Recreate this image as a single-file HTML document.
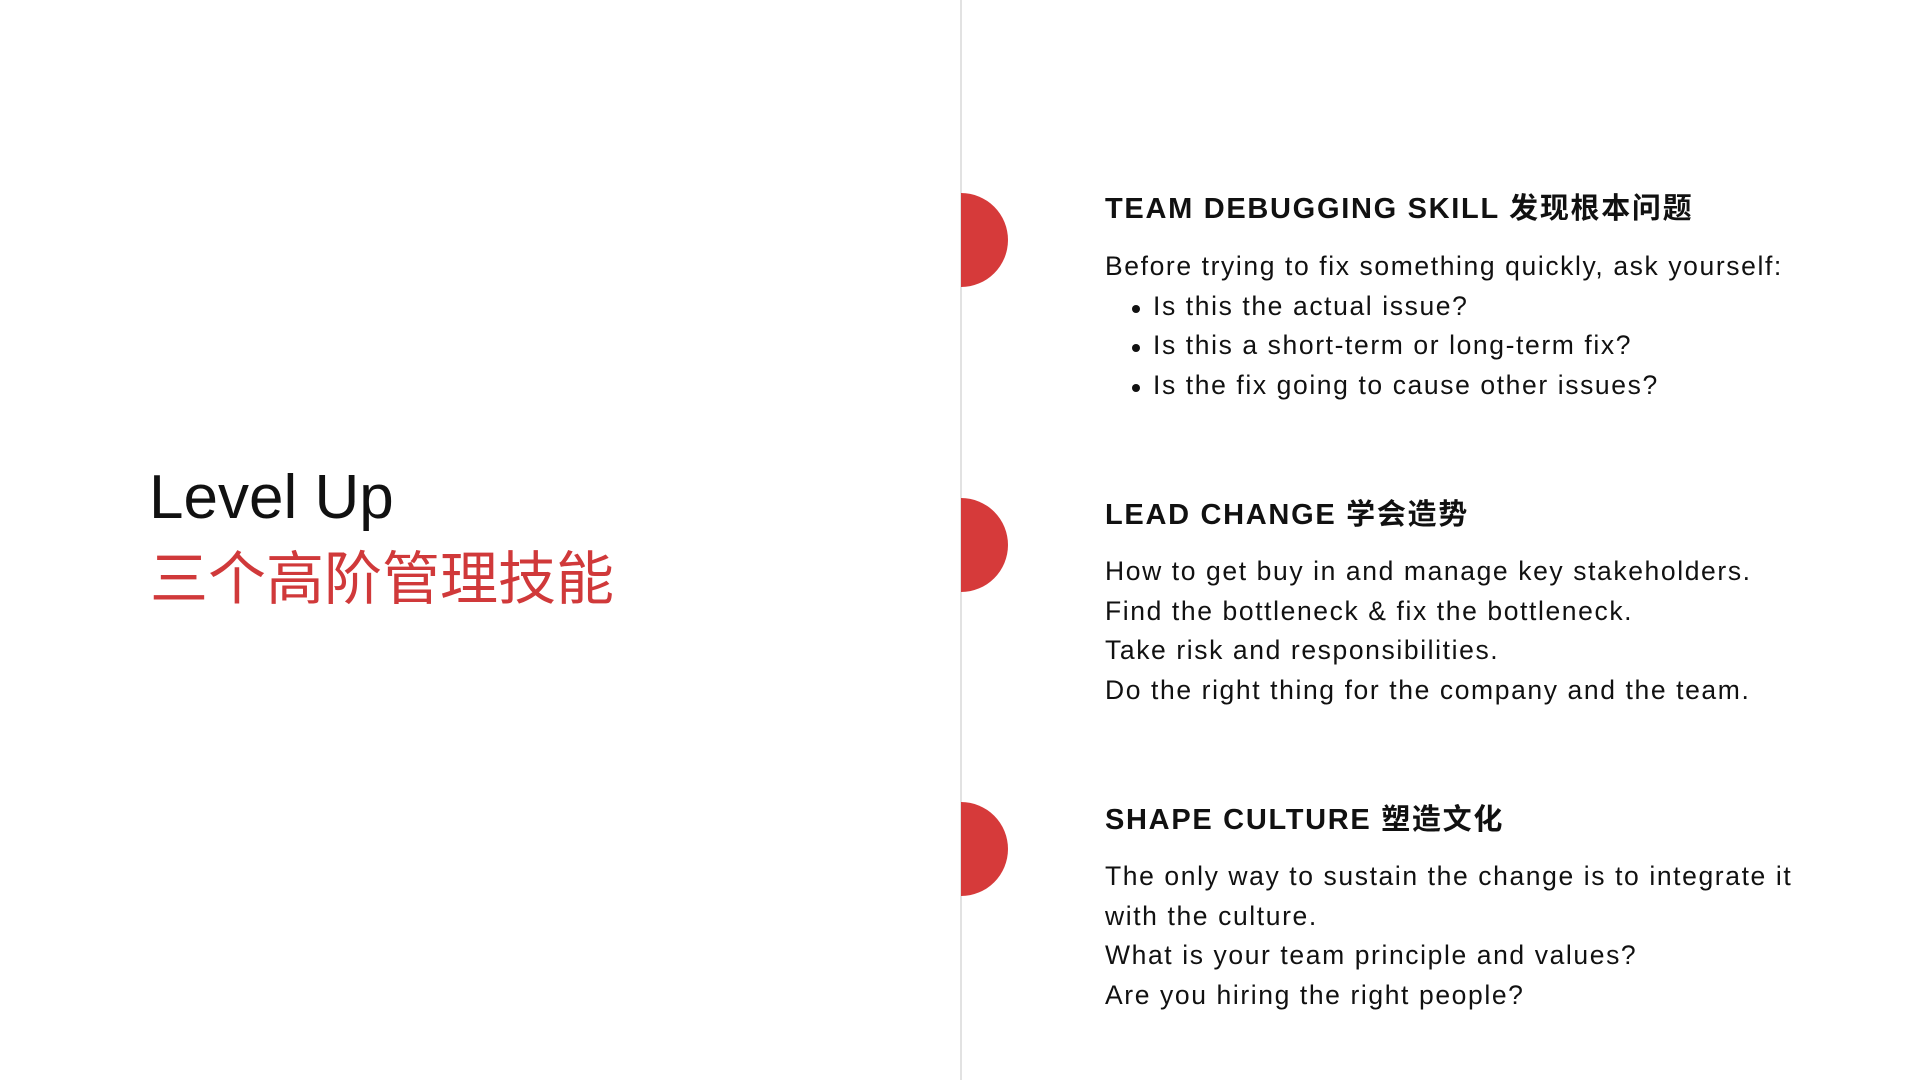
<!DOCTYPE html>
<html><head><meta charset="utf-8"><style>
body{margin:0;width:1920px;height:1080px;background:#fff;position:relative;overflow:hidden;font-family:"Liberation Sans","Noto Sans CJK SC",sans-serif;color:#111}
.abs{position:absolute;white-space:nowrap}
.divider{position:absolute;left:960px;top:0;width:2px;height:1080px;background:#e2e2e2}
.dot{position:absolute;left:961px;width:47px;height:94px;background:#d63a3a;border-radius:0 47px 47px 0}
.h{position:absolute;left:1105px;font-size:29px;font-weight:bold;line-height:36px;white-space:nowrap;letter-spacing:1.7px}
.b{position:absolute;left:1105px;font-size:26.5px;line-height:39.5px;white-space:nowrap;letter-spacing:1.6px}
.b .li{padding-left:48px;position:relative}
.b .li:before{content:"";position:absolute;left:27px;top:18px;width:8px;height:8px;border-radius:50%;background:#111}
</style></head><body>
<div class="divider"></div>
<div class="abs" style="left:149px;top:458px;font-size:62px;line-height:80px;font-weight:300">Level Up</div>
<div class="abs" style="left:150px;top:538px;font-size:58px;line-height:72px;color:#d0393a;font-family:'Noto Sans CJK SC',sans-serif">三个高阶管理技能</div>

<div class="dot" style="top:193px"></div>
<div class="h" style="top:191px">TEAM DEBUGGING SKILL 发现根本问题</div>
<div class="b" style="top:247px">
<div>Before trying to fix something quickly, ask yourself:</div>
<div class="li">Is this the actual issue?</div>
<div class="li">Is this a short-term or long-term fix?</div>
<div class="li">Is the fix going to cause other issues?</div>
</div>

<div class="dot" style="top:498px"></div>
<div class="h" style="top:497px">LEAD CHANGE 学会造势</div>
<div class="b" style="top:552px">
<div>How to get buy in and manage key stakeholders.</div>
<div>Find the bottleneck &amp; fix the bottleneck.</div>
<div>Take risk and responsibilities.</div>
<div>Do the right thing for the company and the team.</div>
</div>

<div class="dot" style="top:802px"></div>
<div class="h" style="top:802px">SHAPE CULTURE 塑造文化</div>
<div class="b" style="top:857px">
<div>The only way to sustain the change is to integrate it</div>
<div>with the culture.</div>
<div>What is your team principle and values?</div>
<div>Are you hiring the right people?</div>
</div>
</body></html>
